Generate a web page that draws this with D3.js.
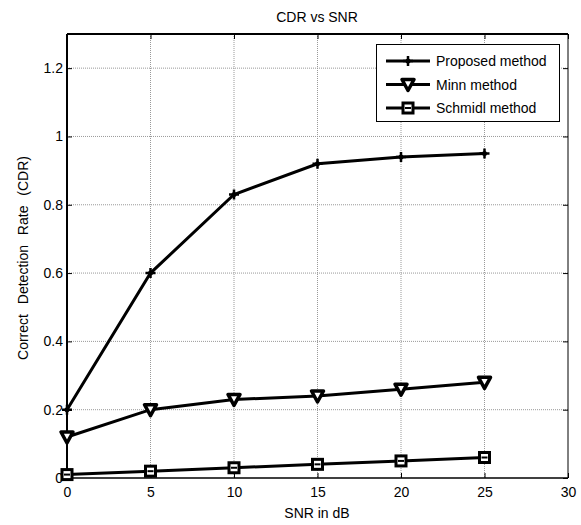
<!DOCTYPE html>
<html>
<head>
<meta charset="utf-8">
<script src="https://cdn.jsdelivr.net/npm/d3@7"></script>
<style>
  body { margin: 0; background: #fff; }
  text { font-family: "Liberation Sans", Arial, sans-serif; fill: #000; }
</style>
</head>
<body>
<svg id="chart" width="581" height="525"></svg>
<script>
var snr = [0, 5, 10, 15, 20, 25];
var proposed = [0.2, 0.6, 0.83, 0.92, 0.94, 0.95];
var minn = [0.12, 0.2, 0.23, 0.24, 0.26, 0.28];
var schmidl = [0.01, 0.02, 0.03, 0.04, 0.05, 0.06];
var xTicks = [0, 5, 10, 15, 20, 25, 30];
var yTicks = [0, 0.2, 0.4, 0.6, 0.8, 1, 1.2];
var seriesNames = ["Proposed method", "Minn method", "Schmidl method"];

var plotL = 67, plotR = 568, plotT = 34, plotB = 478;
var fs = 14;

var x = d3.scaleLinear().domain([0, 30]).range([plotL, plotR]);
var y = d3.scaleLinear().domain([0, 1.3]).range([plotB, plotT]);

var svg = d3.select("#chart");

// grid
svg.append("g").selectAll("line")
    .data(xTicks.slice(1, -1))
    .enter().append("line")
    .attr("x1", function(d) { return x(d); })
    .attr("x2", function(d) { return x(d); })
    .attr("y1", plotT).attr("y2", plotB)
    .attr("stroke", "#999").attr("stroke-dasharray", "1,1");
svg.append("g").selectAll("line")
    .data(yTicks.slice(1))
    .enter().append("line")
    .attr("y1", function(d) { return y(d); })
    .attr("y2", function(d) { return y(d); })
    .attr("x1", plotL).attr("x2", plotR)
    .attr("stroke", "#999").attr("stroke-dasharray", "1,1");

// axes with inward ticks
var xAxis = d3.axisBottom(x).tickValues(xTicks).tickSize(-5).tickPadding(9).tickFormat(d3.format("d"));
var yAxis = d3.axisLeft(y).tickValues(yTicks).tickSize(-5).tickPadding(4).tickFormat(function(d) { return String(+d.toFixed(1)); });

var gx = svg.append("g").attr("transform", "translate(0," + plotB + ")").call(xAxis);
var gy = svg.append("g").attr("transform", "translate(" + plotL + ",0)").call(yAxis);
[gx, gy].forEach(function(g) {
  g.select(".domain").remove();
  g.selectAll("text").attr("font-size", fs).attr("font-family", "Liberation Sans, Arial, sans-serif");
});
svg.append("g").attr("transform", "translate(0," + plotT + ")")
    .call(d3.axisTop(x).tickValues(xTicks).tickSize(-5).tickFormat(""))
    .select(".domain").remove();
svg.append("g").attr("transform", "translate(" + plotR + ",0)")
    .call(d3.axisRight(y).tickValues(yTicks).tickSize(-5).tickFormat(""))
    .select(".domain").remove();

// box
svg.append("line").attr("x1", plotL).attr("x2", plotR).attr("y1", plotB).attr("y2", plotB).attr("stroke", "#000").attr("stroke-width", 1.5);
svg.append("line").attr("x1", plotR).attr("x2", plotR).attr("y1", plotT).attr("y2", plotB).attr("stroke", "#000").attr("stroke-width", 1);
svg.append("line").attr("x1", plotL).attr("x2", plotR).attr("y1", plotT).attr("y2", plotT).attr("stroke", "#000").attr("stroke-width", 2);
svg.append("line").attr("x1", plotL).attr("x2", plotL).attr("y1", plotT).attr("y2", plotB).attr("stroke", "#000").attr("stroke-width", 2);

// lines
var line = d3.line()
    .x(function(d, i) { return x(snr[i]); })
    .y(function(d) { return y(d); });

var allSeries = [proposed, minn, schmidl];
allSeries.forEach(function(s) {
  svg.append("path").datum(s).attr("d", line)
      .attr("fill", "none").attr("stroke", "#000").attr("stroke-width", 3);
});

function drawMarker(g, type, cx, cy) {
  if (type === 0) {
    g.append("path")
        .attr("d", "M" + (cx - 5) + "," + cy + "H" + (cx + 5) + "M" + cx + "," + (cy - 5) + "V" + (cy + 5))
        .attr("stroke", "#000").attr("stroke-width", 2.5);
    g.append("circle").attr("cx", cx).attr("cy", cy).attr("r", 2.5).attr("fill", "#000");
  } else if (type === 1) {
    g.append("path")
        .attr("d", "M" + (cx - 6) + "," + (cy - 5) + "L" + (cx + 6) + "," + (cy - 5) + "L" + cx + "," + (cy + 6) + "Z")
        .attr("fill", "#fff").attr("stroke", "#000").attr("stroke-width", 3.5)
        .attr("stroke-linejoin", "round");
  } else {
    g.append("rect").attr("x", cx - 5).attr("y", cy - 5).attr("width", 10).attr("height", 10)
        .attr("fill", "#fff").attr("stroke", "#000").attr("stroke-width", 3);
    g.append("line").attr("x1", cx - 3).attr("x2", cx + 3).attr("y1", cy).attr("y2", cy)
        .attr("stroke", "#000").attr("stroke-width", 2);
  }
}

allSeries.forEach(function(s, k) {
  var g = svg.append("g");
  s.forEach(function(d, i) { drawMarker(g, k, x(snr[i]), y(d)); });
});

// legend
var lg = svg.append("g");
lg.append("rect").attr("x", 376.5).attr("y", 44.5).attr("width", 183).attr("height", 77)
    .attr("fill", "#fff").attr("stroke", "#000").attr("stroke-width", 1);
seriesNames.forEach(function(name, k) {
  var ly = 61 + k * 23.5;
  lg.append("line").attr("x1", 386).attr("x2", 430).attr("y1", ly).attr("y2", ly)
      .attr("stroke", "#000").attr("stroke-width", 3);
  drawMarker(lg, k, 408, ly);
  lg.append("text").attr("x", 436).attr("y", ly + 5).attr("font-size", fs).text(name);
});

// title and labels
svg.append("text").attr("x", 317).attr("y", 22).attr("text-anchor", "middle").attr("font-size", fs).text("CDR vs SNR");
svg.append("text").attr("x", 317).attr("y", 518).attr("text-anchor", "middle").attr("font-size", fs).text("SNR in dB");
svg.append("text").attr("transform", "translate(28,258) rotate(-90)").attr("text-anchor", "middle")
    .attr("font-size", fs).attr("word-spacing", 6).text("Correct Detection Rate (CDR)");
</script>
</body>
</html>
